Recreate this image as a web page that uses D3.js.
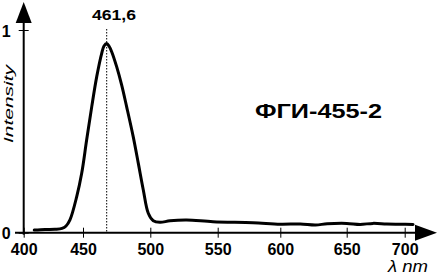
<!DOCTYPE html>
<html>
<head>
<meta charset="utf-8">
<script src="https://cdn.jsdelivr.net/npm/d3@7"></script>
<style>
  body { margin: 0; background: #fff; }
  svg { display: block; font-family: "Liberation Sans", Arial, sans-serif; }
</style>
</head>
<body>
<div id="chart"></div>
<script>
// wavelength (nm) and relative intensity
const lambda = [408.9, 418, 426.4, 432.3, 435.7, 439, 444.7, 448.9, 452.7, 456.5, 460.2, 463.9,
  465.6, 467.6, 469.3, 471.3, 475, 478.7, 482.4, 487.3, 491.1, 494.8, 498.5, 502.2, 507.2,
  514.6, 527, 546.5, 578.2, 600, 615.1, 626.5, 635.3, 650, 661.5, 672.7, 684.5, 695.9, 707.2];
const intensity = [0.013, 0.016, 0.017, 0.021, 0.033, 0.063, 0.178, 0.293, 0.457, 0.622, 0.77, 0.885,
  0.921, 0.933, 0.921, 0.893, 0.819, 0.729, 0.622, 0.474, 0.342, 0.211, 0.096, 0.059, 0.051,
  0.059, 0.063, 0.054, 0.049, 0.042, 0.043, 0.038, 0.044, 0.046, 0.041, 0.046, 0.043, 0.042, 0.041];
const xTicks = [400, 450, 500, 550, 600, 650, 700];
const yTicks = [0, 1];
const peakLabel = '461,6';
const title = 'ФГИ-455-2';

const width = 438;
const height = 275;

const data = lambda.map((l, i) => ({ l, v: intensity[i] }));

// the original axis is not quite even, so the scale follows the drawn ticks
const x = d3.scaleLinear()
  .domain(xTicks)
  .range([23.7, 83, 150.3, 217.7, 280.3, 346.7, 404.7]);
const y = d3.scaleLinear().domain([0, 1]).range([232.7, 30]);

const svg = d3.select('#chart').append('svg')
  .attr('width', width)
  .attr('height', height)
  .attr('viewBox', [0, 0, width, height]);

// peak marker
const peak = d3.greatest(data, d => d.v);
svg.append('line')
  .attr('x1', x(peak.l)).attr('x2', x(peak.l))
  .attr('y1', 29).attr('y2', y(0))
  .attr('stroke', '#000')
  .attr('stroke-width', 1)
  .attr('stroke-dasharray', '1.5,1.5');

svg.append('text')
  .attr('x', 92).attr('y', 20)
  .attr('font-size', 14).attr('font-weight', 'bold')
  .attr('textLength', 44).attr('lengthAdjust', 'spacingAndGlyphs')
  .text(peakLabel);

// axes
const xAxis = svg.append('g')
  .attr('transform', `translate(0,${y(0)})`)
  .call(d3.axisBottom(x).tickValues(xTicks).tickSize(0).tickPadding(11));
xAxis.select('.domain').remove();
xAxis.selectAll('.tick line').attr('y1', -5).attr('y2', 5).attr('stroke-width', 1);
xAxis.selectAll('.tick text')
  .attr('font-size', 16).attr('font-weight', 'bold')
  .attr('font-family', '"Liberation Sans", Arial, sans-serif')
  .attr('fill', '#000');

const yAxis = svg.append('g')
  .attr('transform', `translate(${x(400)},0)`)
  .call(d3.axisLeft(y).tickValues(yTicks).tickFormat(d3.format('d')).tickSize(0).tickPadding(13));
yAxis.select('.domain').remove();
yAxis.selectAll('.tick line').attr('x1', -5).attr('x2', 5).attr('stroke-width', 1);
yAxis.selectAll('.tick text')
  .attr('font-size', 16).attr('font-weight', 'bold')
  .attr('font-family', '"Liberation Sans", Arial, sans-serif')
  .attr('dy', '0.38em')
  .attr('fill', '#000');

// axis lines with arrow heads
const x0 = x(400), y0 = y(0);
svg.append('line')
  .attr('x1', 15).attr('x2', 420).attr('y1', y0).attr('y2', y0)
  .attr('stroke', '#000').attr('stroke-width', 2);
svg.append('path')
  .attr('d', `M437,${y0} L415,${y0 - 8} L415,${y0 + 8} Z`)
  .attr('fill', '#000');
svg.append('line')
  .attr('x1', x0).attr('x2', x0).attr('y1', y0 + 2).attr('y2', 18)
  .attr('stroke', '#000').attr('stroke-width', 2);
svg.append('path')
  .attr('d', `M${x0},2 L${x0 - 8},23 L${x0 + 8},23 Z`)
  .attr('fill', '#000');

// spectrum
const line = d3.line()
  .x(d => x(d.l))
  .y(d => y(d.v))
  .curve(d3.curveCatmullRom.alpha(0.5));
svg.append('path')
  .datum(data)
  .attr('fill', 'none')
  .attr('stroke', '#000')
  .attr('stroke-width', 3)
  .attr('stroke-linejoin', 'round')
  .attr('stroke-linecap', 'round')
  .attr('d', line);

// labels
svg.append('text')
  .attr('transform', 'translate(13,143) rotate(-90)')
  .attr('font-size', 13).attr('font-style', 'italic')
  .attr('textLength', 78).attr('lengthAdjust', 'spacingAndGlyphs')
  .text('Intensity');

svg.append('text')
  .attr('x', 388).attr('y', 272)
  .attr('font-size', 16).attr('font-style', 'italic')
  .attr('textLength', 40).attr('lengthAdjust', 'spacingAndGlyphs')
  .text('λ nm');

svg.append('text')
  .attr('x', 255).attr('y', 118.3)
  .attr('font-size', 21).attr('font-weight', 'bold')
  .attr('textLength', 127).attr('lengthAdjust', 'spacingAndGlyphs')
  .text(title);
</script>
</body>
</html>
